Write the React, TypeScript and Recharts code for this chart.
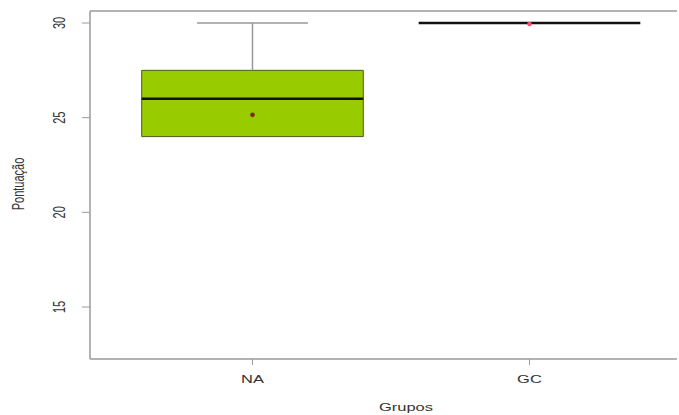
import React from 'react';
import { ComposedChart, XAxis, YAxis, Scatter, ReferenceArea, ReferenceLine, Cell } from 'recharts';

const categories = ['NA', 'GC'];
const positions = [1, 2];
const lowerWhisker = [24, 30];
const q1 = [24, 30];
const medians = [26, 30];
const q3 = [27.5, 30];
const upperWhisker = [30, 30];
const means = [25.15, 29.95];
const meanColors = ['#7a2a10', '#ff4d6d'];
const yTicks = [15, 20, 25, 30];
const xTicks = [1, 2];

const X_DOMAIN: [number, number] = [0.4134, 2.5325];
const Y_DOMAIN: [number, number] = [12.253, 30.634];
const BOX_HALF = 0.4;
const CAP_HALF = 0.2;

const FONT = '"Liberation Sans", Arial, sans-serif';
const AXIS = '#9a9a9a';

const meanData = positions.map((p, i) => ({ x: p, y: means[i] }));

const XTick = (props: any) => {
  const { x, y, payload } = props;
  const idx = positions.indexOf(payload.value);
  return (
    <text
      transform={`translate(${x},${y + 16}) scale(1.5,1)`}
      textAnchor="middle"
      fontFamily={FONT}
      fontSize={11}
      fill="#333"
    >
      {idx >= 0 ? categories[idx] : ''}
    </text>
  );
};

const YTick = (props: any) => {
  const { x, y, payload } = props;
  return (
    <text
      transform={`translate(${x - 15},${y}) scale(1.5,1) rotate(-90)`}
      textAnchor="middle"
      fontFamily={FONT}
      fontSize={11}
      fill="#333"
    >
      {payload.value}
    </text>
  );
};

const MeanDot = (props: any) => {
  const { cx, cy, fill } = props;
  return <circle cx={cx} cy={cy} r={2.3} fill={fill} />;
};

export default function App() {
  return (
    <div style={{ position: 'absolute', left: 0, top: 0, width: 679, height: 415, background: '#fff' }}>
      <ComposedChart
        width={679}
        height={415}
        margin={{ top: 11, right: 2, bottom: 0, left: 10 }}
      >
        <XAxis
          type="number"
          dataKey="x"
          domain={X_DOMAIN}
          ticks={xTicks}
          allowDataOverflow
          height={56}
          stroke={AXIS}
          axisLine={{ stroke: AXIS, strokeWidth: 1.5 }}
          tickLine={{ stroke: AXIS }}
          tickSize={6}
          tick={<XTick />}
          interval={0}
        />
        <YAxis
          type="number"
          dataKey="y"
          domain={Y_DOMAIN}
          ticks={yTicks}
          allowDataOverflow
          width={80}
          axisLine={{ stroke: AXIS, strokeWidth: 1.5 }}
          tickLine={{ stroke: AXIS }}
          tickSize={8}
          tick={<YTick />}
          interval={0}
        />
        <ReferenceLine y={Y_DOMAIN[1]} stroke={AXIS} strokeWidth={1.5} ifOverflow="extendDomain" />
        {positions.map((p, i) => (
          <ReferenceLine
            key={`wu${i}`}
            segment={[{ x: p, y: q3[i] }, { x: p, y: upperWhisker[i] }]}
            stroke="#999"
            strokeWidth={1.5}
          />
        ))}
        {positions.map((p, i) => (
          <ReferenceLine
            key={`wl${i}`}
            segment={[{ x: p, y: lowerWhisker[i] }, { x: p, y: q1[i] }]}
            stroke="#999"
            strokeWidth={1.5}
          />
        ))}
        {positions.map((p, i) => (
          <ReferenceLine
            key={`cu${i}`}
            segment={[{ x: p - CAP_HALF, y: upperWhisker[i] }, { x: p + CAP_HALF, y: upperWhisker[i] }]}
            stroke="#999"
            strokeWidth={1.5}
          />
        ))}
        {positions.map((p, i) => (
          <ReferenceArea
            key={`box${i}`}
            x1={p - BOX_HALF}
            x2={p + BOX_HALF}
            y1={q1[i]}
            y2={q3[i]}
            fill="#99CC00"
            fillOpacity={1}
            stroke="#4a5a20"
            strokeWidth={1}
          />
        ))}
        {positions.map((p, i) => (
          <ReferenceLine
            key={`med${i}`}
            segment={[{ x: p - BOX_HALF, y: medians[i] }, { x: p + BOX_HALF, y: medians[i] }]}
            stroke="#111"
            strokeWidth={2.5}
          />
        ))}
        <Scatter data={meanData} isAnimationActive={false} shape={<MeanDot />}>
          {meanData.map((d, i) => (
            <Cell key={i} fill={meanColors[i]} />
          ))}
        </Scatter>
      </ComposedChart>
      <svg
        width={679}
        height={415}
        style={{ position: 'absolute', left: 0, top: 0, pointerEvents: 'none' }}
      >
        <text
          transform="translate(406,411) scale(1.5,1)"
          textAnchor="middle"
          fontFamily={FONT}
          fontSize={11}
          fill="#333"
        >
          Grupos
        </text>
        <text
          transform="translate(24,184) scale(1.5,1) rotate(-90)"
          textAnchor="middle"
          fontFamily={FONT}
          fontSize={11}
          fill="#333"
        >
          Pontuação
        </text>
      </svg>
    </div>
  );
}
